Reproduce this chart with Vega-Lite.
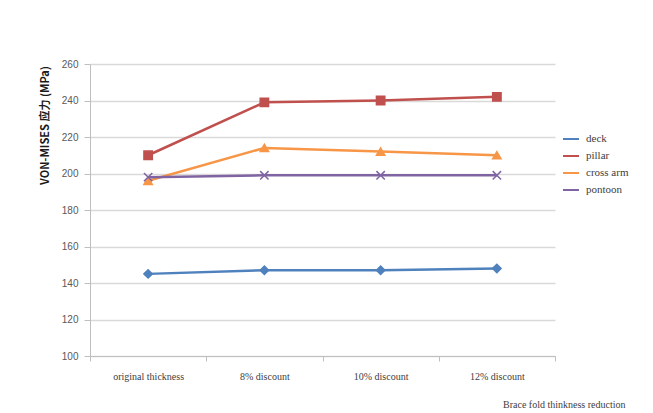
{
  "$schema": "https://vega.github.io/schema/vega-lite/v6.json",
  "width": 465,
  "height": 292,
  "autosize": {"type": "none"},
  "padding": {"left": 90, "top": 64, "right": 98, "bottom": 57},
  "background": "white",
  "config": {"view": {"stroke": null}},
  "data": {"values": [
    {"cat": "original thickness", "series": "deck", "v": 145},
    {"cat": "8% discount", "series": "deck", "v": 147},
    {"cat": "10% discount", "series": "deck", "v": 147},
    {"cat": "12% discount", "series": "deck", "v": 148},
    {"cat": "original thickness", "series": "pillar", "v": 210},
    {"cat": "8% discount", "series": "pillar", "v": 239},
    {"cat": "10% discount", "series": "pillar", "v": 240},
    {"cat": "12% discount", "series": "pillar", "v": 242},
    {"cat": "original thickness", "series": "cross arm", "v": 196},
    {"cat": "8% discount", "series": "cross arm", "v": 214},
    {"cat": "10% discount", "series": "cross arm", "v": 212},
    {"cat": "12% discount", "series": "cross arm", "v": 210},
    {"cat": "original thickness", "series": "pontoon", "v": 198},
    {"cat": "8% discount", "series": "pontoon", "v": 199},
    {"cat": "10% discount", "series": "pontoon", "v": 199},
    {"cat": "12% discount", "series": "pontoon", "v": 199}
  ]},
  "encoding": {
    "x": {
      "field": "cat", "type": "nominal",
      "sort": ["original thickness", "8% discount", "10% discount", "12% discount"],
      "scale": {"paddingInner": 0, "paddingOuter": 0},
      "axis": {
        "labelAngle": 0, "labelFont": "Liberation Serif", "labelFontSize": 10, "labelColor": "#404040",
        "labelPadding": 10,
        "domainColor": "#bfbfbf", "tickColor": "#bfbfbf", "tickBand": "extent", "tickSize": 5,
        "title": "Brace fold thinkness reduction",
        "titleFont": "Liberation Serif", "titleFontSize": 10, "titleFontWeight": "normal", "titleColor": "#404040",
        "titleAnchor": null, "titleAlign": "right", "titleX": 535, "titleY": 43
      }
    },
    "y": {
      "field": "v", "type": "quantitative",
      "scale": {"domain": [100, 260], "nice": false, "zero": false},
      "axis": {
        "values": [100, 120, 140, 160, 180, 200, 220, 240, 260],
        "labelFont": "Liberation Sans", "labelFontSize": 10, "labelColor": "#595959", "labelPadding": 6,
        "domainColor": "#bfbfbf", "tickColor": "#bfbfbf", "tickSize": 6,
        "gridColor": "#d9d9d9", "gridWidth": 1.5,
        "title": "VON-MISES 应力 (MPa)",
        "titleFont": "Noto Sans CJK SC", "titleFontSize": 11, "titleFontWeight": "bold", "titleColor": "#1a1a1a",
        "titleAngle": -90, "titleAnchor": null, "titleAlign": "center", "titleBaseline": "middle", "titleX": -45, "titleY": 61
      }
    }
  },
  "resolve": {"legend": {"color": "independent", "shape": "independent", "fill": "independent", "stroke": "independent"}},
  "layer": [
    {
      "mark": {"type": "line", "strokeWidth": 2.5},
      "encoding": {
        "color": {
          "field": "series", "type": "nominal",
          "scale": {"domain": ["deck", "pillar", "cross arm", "pontoon"], "range": ["#4F81BD", "#C0504D", "#F79646", "#8064A2"]},
          "legend": {
            "title": null, "orient": "none", "legendX": 472, "legendY": 66,
            "labelFont": "Liberation Serif", "labelFontSize": 11, "labelColor": "#404040",
            "symbolType": "stroke", "symbolSize": 256, "symbolStrokeWidth": 2, "rowPadding": 3, "labelOffset": 6
          }
        }
      }
    },
    {
      "mark": {"type": "point", "filled": true, "opacity": 1, "size": 70},
      "encoding": {
        "shape": {
          "field": "series", "type": "nominal",
          "scale": {"domain": ["deck", "pillar", "cross arm", "pontoon"], "range": ["diamond", "square", "triangle-up", "M-1,-1L1,1M-1,1L1,-1"]},
          "legend": null
        },
        "fill": {"field": "series", "type": "nominal", "legend": null, "scale": {"domain": ["deck", "pillar", "cross arm", "pontoon"], "range": ["#4F81BD", "#C0504D", "#F79646", "#8064A2"]}},
        "strokeWidth": {"value": 1.5},
        "stroke": {"field": "series", "type": "nominal", "legend": null, "scale": {"domain": ["deck", "pillar", "cross arm", "pontoon"], "range": ["#4F81BD", "#C0504D", "#F79646", "#8064A2"]}}
      }
    }
  ]
}
